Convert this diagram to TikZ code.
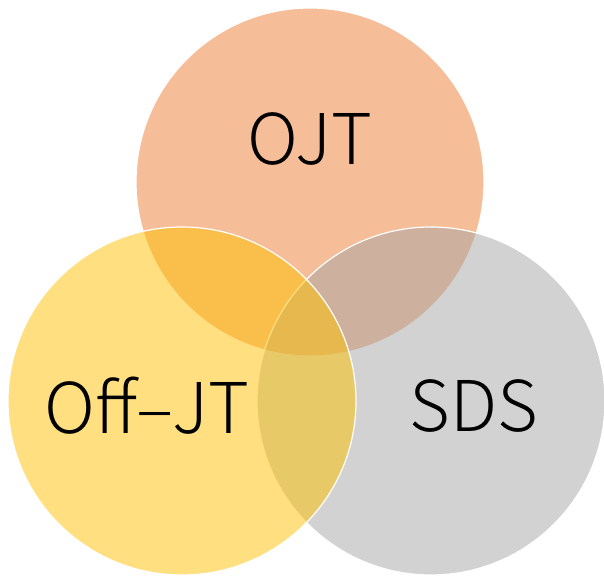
\documentclass[tikz,border=0pt]{standalone}
\usepackage{fontspec}
\setmainfont{Noto Sans CJK KR Light}
\definecolor{ojtorange}{RGB}{237,125,49}
\definecolor{offyellow}{RGB}{255,192,0}
\definecolor{sdsgray}{RGB}{165,165,165}
\begin{document}
\begin{tikzpicture}[x=1pt,y=1pt,
	venn/.style={circle,draw=white,line width=1.2pt,fill opacity=0.5,minimum size=348pt,inner sep=0pt},
	lbl/.style={font=\fontsize{70}{70}\selectfont,text=black}]
		\useasboundingbox (0,0) rectangle (604,577);
		
		\node[venn,fill=ojtorange] (ojt) at (310,395) {};
		\node[venn,fill=sdsgray] (sds) at (431,176) {};
		\node[venn,fill=offyellow] (offjt) at (182,176) {};
		
		\node[lbl] (ojtlbl) at (310,438) {OJT};
		\node[lbl] (offjtlbl) at (147,171) {Off--JT};
		\node[lbl] (sdslbl) at (474,171) {SDS};
	\end{tikzpicture}
\end{document}
